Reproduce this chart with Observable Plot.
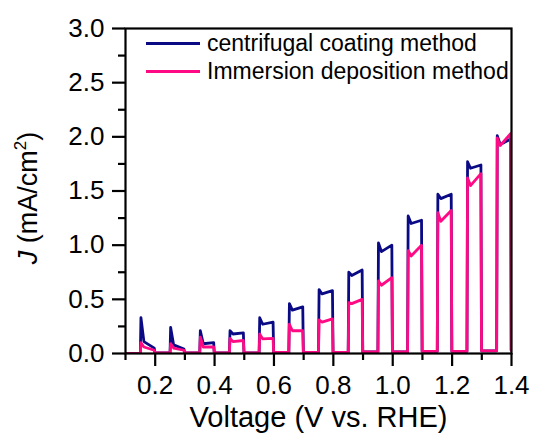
<!DOCTYPE html>
<html>
<head>
<meta charset="utf-8">
<script src="https://cdn.jsdelivr.net/npm/d3@7"></script>
<script src="https://cdn.jsdelivr.net/npm/@observablehq/plot@0.6"></script>
<style>
  html, body { margin: 0; padding: 0; background: #fff; }
  #chart { position: relative; width: 535px; height: 436px; font-family: "Liberation Sans", Arial, sans-serif; }
  #ylabel { position: absolute; left: 28px; top: 198px; transform: translate(-50%, -50%) rotate(-90deg); font-size: 27px; white-space: nowrap; color: #000; }
  #ylabel sup { font-size: 17px; vertical-align: 0; position: relative; top: -11px; }
  #legend { position: absolute; left: 146px; top: 29px; font-size: 23px; color: #000; }
  .item { display: flex; align-items: center; height: 28.5px; white-space: nowrap; }
  .swatch { width: 54px; height: 3px; margin-right: 7px; }
</style>
</head>
<body>
<div id="chart">
  <div id="ylabel"><i>J</i> (mA/cm<sup>2</sup>)</div>
  <div id="legend"></div>
</div>
<script>
// Chopped-light sweep: light switched on at each pulseOn voltage for 0.05 V.
const pulseOn = [0.15, 0.25, 0.35, 0.45, 0.55, 0.65, 0.75, 0.85, 0.95, 1.05, 1.15, 1.25, 1.35];

// centrifugal coating method (mA/cm2): transient peak, dip after it, value at light-off, dark current after
const centrifugalSpike = [0.33, 0.24, 0.21, 0.21, 0.33, 0.46, 0.59, 0.75, 1.02, 1.27, 1.47, 1.77, 2.01];
const centrifugalDip   = [0.11, 0.08, 0.09, 0.18, 0.27, 0.40, 0.55, 0.72, 0.94, 1.20, 1.43, 1.71, 1.93];
const centrifugalEnd   = [0.05, 0.04, 0.10, 0.19, 0.29, 0.43, 0.58, 0.77, 1.00, 1.23, 1.47, 1.74, 1.98];
const centrifugalDark  = [0.005, 0.005, 0.005, 0.005, 0.01, 0.01, 0.01, 0.015, 0.015, 0.02, 0.02, 0.025, 0.03];

// immersion deposition method (mA/cm2)
const immersionSpike = [0.10, 0.09, 0.15, 0.14, 0.18, 0.27, 0.31, 0.47, 0.67, 0.95, 1.30, 1.62, 1.99];
const immersionDip   = [0.06, 0.05, 0.06, 0.11, 0.135, 0.21, 0.29, 0.46, 0.63, 0.90, 1.22, 1.55, 1.92];
const immersionEnd   = [0.03, 0.03, 0.06, 0.12, 0.14, 0.21, 0.32, 0.50, 0.70, 1.00, 1.32, 1.66, 2.03];
const immersionDark  = [0.005, 0.005, 0.005, 0.005, 0.01, 0.01, 0.01, 0.015, 0.015, 0.02, 0.02, 0.025, 0.03];

const seriesNames = ["centrifugal coating method", "Immersion deposition method"];
const seriesColors = ["#0a0a85", "#ff0a84"];

const xMajor = [0.2, 0.4, 0.6, 0.8, 1.0, 1.2, 1.4];
const xMinor = [0.1, 0.3, 0.5, 0.7, 0.9, 1.1, 1.3];
const yMajor = [0, 0.5, 1.0, 1.5, 2.0, 2.5, 3.0];
const yMinor = [0.25, 0.75, 1.25, 1.75, 2.25, 2.75];

// Trace one chopped-light curve from the per-pulse readings
function trace(name, spike, dip, end, dark) {
  const rows = [{V: 0.10, J: 0, series: name}];
  let prev = 0;
  pulseOn.forEach((v, i) => {
    rows.push({V: v, J: prev, series: name});
    rows.push({V: v + 0.002, J: spike[i], series: name});
    rows.push({V: v + 0.012, J: dip[i], series: name});
    rows.push({V: v + 0.047, J: end[i], series: name});
    rows.push({V: v + 0.049, J: dark[i], series: name});
    prev = dark[i];
  });
  return rows;
}

const centrifugal = trace(seriesNames[0], centrifugalSpike, centrifugalDip, centrifugalEnd, centrifugalDark);
const immersion = trace(seriesNames[1], immersionSpike, immersionDip, immersionEnd, immersionDark);

const fmt = d3.format(".1f");

const plot = Plot.plot({
  width: 535,
  height: 436,
  marginLeft: 125,
  marginRight: 24,
  marginTop: 28,
  marginBottom: 83,
  style: {fontFamily: "Liberation Sans, Arial, sans-serif", color: "#000", background: "#fff", overflow: "visible"},
  x: {domain: [0.1, 1.4]},
  y: {domain: [0, 3.0]},
  marks: [
    Plot.line(centrifugal, {x: "V", y: "J", stroke: seriesColors[0], strokeWidth: 2.8, clip: true}),
    Plot.line(immersion, {x: "V", y: "J", stroke: seriesColors[1], strokeWidth: 2.8, clip: true}),
    Plot.frame({stroke: "#000", strokeWidth: 2.2}),
    Plot.axisX({ticks: xMajor, tickSize: 13, tickPadding: 9, tickFormat: fmt, fontSize: 26, label: null, strokeWidth: 2.2}),
    Plot.axisX({ticks: xMinor, tickSize: 7, tickFormat: () => "", label: null, strokeWidth: 2.2}),
    Plot.axisY({ticks: yMajor, tickSize: 13, tickPadding: 8, tickFormat: fmt, fontSize: 26, label: null, strokeWidth: 2.2}),
    Plot.axisY({ticks: yMinor, tickSize: 7, tickFormat: () => "", label: null, strokeWidth: 2.2}),
    Plot.text(["Voltage (V vs. RHE)"], {frameAnchor: "bottom", dy: 73, fontSize: 29, fill: "#000"})
  ]
});

const chart = document.getElementById("chart");
chart.insertBefore(plot, chart.firstChild);

const legend = document.getElementById("legend");
seriesNames.forEach((name, i) => {
  const item = document.createElement("div");
  item.className = "item";
  const sw = document.createElement("div");
  sw.className = "swatch";
  sw.style.background = seriesColors[i];
  const label = document.createElement("span");
  label.textContent = name;
  item.appendChild(sw);
  item.appendChild(label);
  legend.appendChild(item);
});
</script>
</body>
</html>
